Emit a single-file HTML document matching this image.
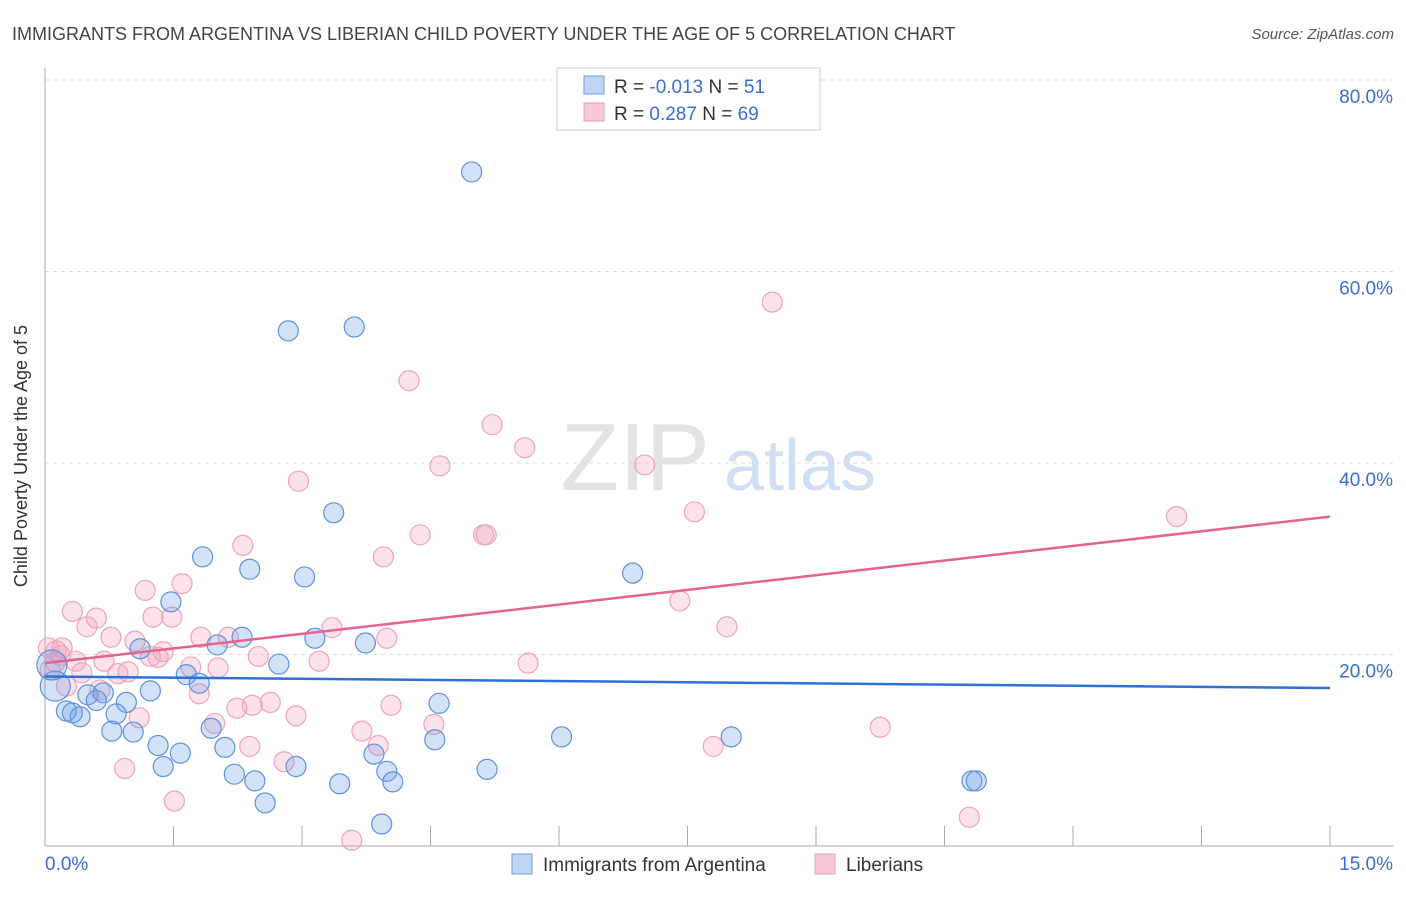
<!DOCTYPE html>
<html><head><meta charset="utf-8"><style>
body{margin:0;background:#fff;font-family:"Liberation Sans",sans-serif}
svg text{font-family:"Liberation Sans",sans-serif}
</style></head><body>
<svg id="chart" width="1406" height="892">
<text x="12" y="40" font-size="18" fill="#444">IMMIGRANTS FROM ARGENTINA VS LIBERIAN CHILD POVERTY UNDER THE AGE OF 5 CORRELATION CHART</text>
<text x="1394" y="39" font-size="15" fill="#555" text-anchor="end" font-style="italic">Source: ZipAtlas.com</text>
<text x="27" y="456" font-size="18" fill="#333" text-anchor="middle" transform="rotate(-90 27 456)">Child Poverty Under the Age of 5</text>
<g><text x="635" y="490" font-size="96" fill="#ddd" text-anchor="middle" font-family="Liberation Serif" opacity="0.8">ZIP</text><text x="800" y="490" font-size="72" fill="#c5d8f0" text-anchor="middle" opacity="0.8">atlas</text></g>
<g id="grid"></g><g id="axes"></g><g id="marks"></g>
<g>
<rect x="557" y="68" width="263" height="62" fill="#fff" stroke="#ccc"/>
<rect x="584" y="76" width="20" height="18" fill="#c0d5f3" stroke="#6b9be0"/>
<rect x="584" y="103" width="20" height="18" fill="#f9c8d6" stroke="#eaa0b8"/>
<text x="614" y="93" font-size="19" fill="#333">R = <tspan fill="#3a6fd0">-0.013</tspan>   N =  <tspan fill="#3a6fd0">51</tspan></text>
<text x="614" y="120" font-size="19" fill="#333">R =  <tspan fill="#3a6fd0"> 0.287</tspan>   N = <tspan fill="#3a6fd0">69</tspan></text>
</g>
<g>
<rect x="512" y="854" width="20" height="20" fill="#c0d5f3" stroke="#6b9be0"/>
<text x="543" y="871" font-size="19" fill="#333">Immigrants from Argentina</text>
<rect x="815" y="854" width="20" height="20" fill="#f9c8d6" stroke="#eaa0b8"/>
<text x="846" y="871" font-size="19" fill="#333">Liberians</text>
</g>
</svg>
<script>
const blueX=[4.98,2.84,3.61,3.37,1.84,2.39,3.03,6.86,1.47,2.30,3.15,3.74,2.01,1.11,2.73,1.65,1.80,1.23,0.50,0.68,0.60,0.95,4.60,0.25,0.32,0.41,0.83,0.78,1.03,1.94,1.32,1.58,2.10,4.55,6.03,8.01,3.84,1.38,2.93,3.99,5.16,2.21,2.45,3.44,4.06,10.82,10.87,2.57,3.93,0.12,0.08];
const blueY=[70.4,53.8,54.2,34.8,30.2,28.9,28.1,28.5,25.5,21.8,21.7,21.2,21.0,20.6,19.0,17.9,17.0,16.2,15.8,16.0,15.2,15.0,14.9,14.1,13.9,13.5,13.8,12.0,11.9,12.3,10.5,9.7,10.3,11.1,11.4,11.4,9.6,8.3,8.3,7.8,8.0,7.5,6.8,6.5,6.7,6.8,6.8,4.5,2.3,16.7,18.9];
const pinkX=[8.49,4.25,5.22,5.60,4.61,7.00,2.96,7.58,13.21,4.38,5.12,5.15,2.31,3.95,1.60,1.17,0.32,0.60,1.26,1.48,0.49,3.35,0.77,1.05,1.82,2.14,3.99,7.41,7.96,0.04,0.20,0.13,1.38,1.23,1.32,2.49,0.69,0.36,3.20,5.64,1.70,2.02,0.43,0.97,0.85,0.25,0.64,1.80,2.63,2.42,2.24,4.04,2.93,1.10,1.98,4.54,9.75,3.70,3.89,2.39,7.80,2.79,0.93,1.51,10.79,3.58,0.12,0.06,0.18];
const pinkY=[56.8,48.6,44.0,41.6,39.7,39.8,38.1,34.9,34.4,32.5,32.5,32.5,31.4,30.2,27.4,26.7,24.5,23.8,23.9,23.9,22.9,22.8,21.8,21.4,21.8,21.8,21.7,25.6,22.9,20.7,20.7,20.4,20.3,19.8,19.7,19.8,19.3,19.3,19.3,19.1,18.7,18.6,18.1,18.2,18.0,16.7,16.3,15.9,15.0,14.7,14.4,14.7,13.6,13.4,12.8,12.7,12.4,12.0,10.5,10.4,10.4,8.8,8.1,4.7,3.0,0.6,19.2,18.4,19.9];
const blueTrend=[17.7,16.5];
const pinkTrend=[19.1,34.4];
const yTicks=[20,40,60,80];
const xTickCount=10;
const NS="http://www.w3.org/2000/svg";
const X0=45,X1=1330,Y0=846,YPER=191.5/20;
const sx=v=>X0+(X1-X0)*v/15, sy=v=>Y0-v*YPER;
function mk(t,a,p){const e=document.createElementNS(NS,t);for(const k in a)e.setAttribute(k,a[k]);p.appendChild(e);return e;}
const grid=document.getElementById('grid'),axes=document.getElementById('axes'),marks=document.getElementById('marks');
yTicks.forEach(v=>{
 const l=mk('line',{x1:45,x2:1394,y1:sy(v),y2:sy(v),stroke:'#ddd','stroke-dasharray':'4,4'},grid);
 
 
 const t=mk('text',{x:1393,y:sy(v)+23,'font-size':19,fill:'#3a6fd0','text-anchor':'end'},axes);t.textContent=v.toFixed(1)+'%';
 
 
});
const ax=mk('line',{x1:45,x2:45,y1:68,y2:846,stroke:'#aaa'},axes);


const bx=mk('line',{x1:45,x2:1394,y1:846,y2:846,stroke:'#aaa'},axes);


for(let i=1;i<=xTickCount;i++){const x=sx(15*i/xTickCount);const tk=mk('line',{x1:x,x2:x,y1:826,y2:846,stroke:'#aaa'},axes);
 
 }
const t0=mk('text',{x:45,y:870,'font-size':19,fill:'#3a6fd0'},axes);t0.textContent='0.0%';


const t1=mk('text',{x:1393,y:870,'font-size':19,fill:'#3a6fd0','text-anchor':'end'},axes);t1.textContent='15.0%';


function pts(xs,ys,fill,stroke,name){xs.forEach((x,i)=>{const big=(name==='argentina'&&i>=49);
 const c=mk('circle',{cx:sx(x),cy:sy(ys[i]),r:big?15:10,fill:fill,stroke:stroke,'stroke-width':1.2},marks);
 
 });}
pts(pinkX,pinkY,'rgba(243,160,188,0.3)','#eca4bc','liberians');
pts(blueX,blueY,'rgba(110,160,230,0.3)','#5e92dc','argentina');
const bl=mk('line',{x1:sx(0),y1:sy(blueTrend[0]),x2:sx(15),y2:sy(blueTrend[1]),stroke:'#2f6fd6','stroke-width':2.5},marks);


const pl=mk('line',{x1:sx(0),y1:sy(pinkTrend[0]),x2:sx(15),y2:sy(pinkTrend[1]),stroke:'#e4648f','stroke-width':2.5},marks);


</script>
</body></html>
